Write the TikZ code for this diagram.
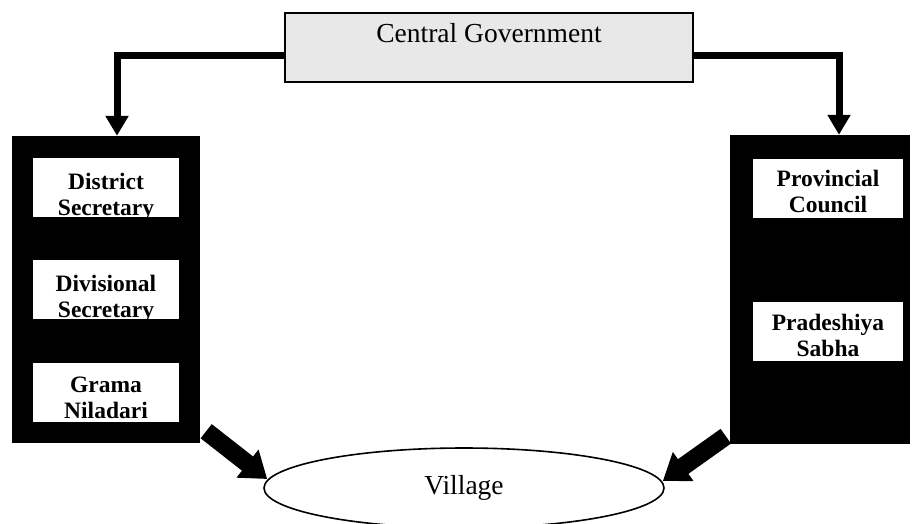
\documentclass[tikz,border=0pt]{standalone}
\usepackage{fontspec}
\setmainfont{Liberation Serif}
\usetikzlibrary{arrows.meta,shapes.geometric}
\begin{document}
\begin{tikzpicture}[x=1pt,y=-1pt,
  panel/.style={rectangle,fill=black,draw=none,inner sep=0pt},
  wbox/.style={rectangle,fill=white,draw=none,inner sep=0pt,minimum height=59pt},
  lbl/.style={font=\fontsize{23.5}{26}\selectfont\bfseries,align=center,inner sep=0pt,text depth=0pt,anchor=south},
  thinarrow/.style={line width=7pt,-{Triangle[length=20pt,width=22pt]}},
  bigarrow/.style={line width=18pt,-{Triangle[length=25pt,width=34pt]}},
  cgbox/.style={rectangle,draw=black,line width=1.6pt,fill=black!9,inner sep=0pt,
    minimum width=408pt,minimum height=69pt,font=\fontsize{27.5}{30}\selectfont,
    text height=18.5pt,text depth=29.5pt},
  villagebox/.style={ellipse,draw=black,line width=1.6pt,inner sep=0pt,
    minimum width=400pt,minimum height=80pt,font=\fontsize{27.5}{30}\selectfont}
]
\useasboundingbox (0,0) rectangle (912,523);

% central government
\node[cgbox] (cg) at (489,47.5) {Central Government};

% black panels
\node[panel,minimum width=188pt,minimum height=307pt] (lbox) at (106,289.5) {};
\node[panel,minimum width=180pt,minimum height=309pt] (rbox) at (820,289.5) {};

% left white boxes
\node[wbox,minimum width=146pt] (dsbox) at (106,187.5) {};
\node[wbox,minimum width=146pt] (dvbox) at (106,289.5) {};
\node[wbox,minimum width=146pt] (gnbox) at (106,392.5) {};
\node[lbl] (ds) at ([yshift=1.5pt]dsbox.south) {District\\Secretary};
\node[lbl] (dv) at ([yshift=1.5pt]dvbox.south) {Divisional\\Secretary};
\node[lbl] (gn) at ([yshift=4pt]gnbox.south) {Grama\\Niladari};

% right white boxes
\node[wbox,minimum width=150pt] (pcbox) at (828,188) {};
\node[wbox,minimum width=150pt] (psbox) at (828,331.5) {};
\node[lbl] (pc) at ([yshift=5pt]pcbox.south) {Provincial\\Council};
\node[lbl] (ps) at ([yshift=5pt]psbox.south) {Pradeshiya\\Sabha};

% village
\node[villagebox] (village) at (464,488) {Village};

% connectors from central government
\coordinate (cgl) at ([yshift=-7.5pt]cg.west);
\coordinate (cgr) at ([yshift=-7.5pt]cg.east);
\draw[thinarrow] (cgl) -| ([xshift=11pt]lbox.north);
\draw[thinarrow] (cgr) -| ([xshift=19pt]rbox.north);

% big arrows to village
\coordinate (ltail) at ([shift={(6,-12)}]lbox.south east);
\coordinate (ltip) at ([shift={(4,-9)}]village.west);
\coordinate (rtail) at ([shift={(-4,-8)}]rbox.south west);
\coordinate (rtip) at ([shift={(-2,-7)}]village.east);
\draw[bigarrow] (ltail) -- (ltip);
\draw[bigarrow] (rtail) -- (rtip);
\end{tikzpicture}
\end{document}
